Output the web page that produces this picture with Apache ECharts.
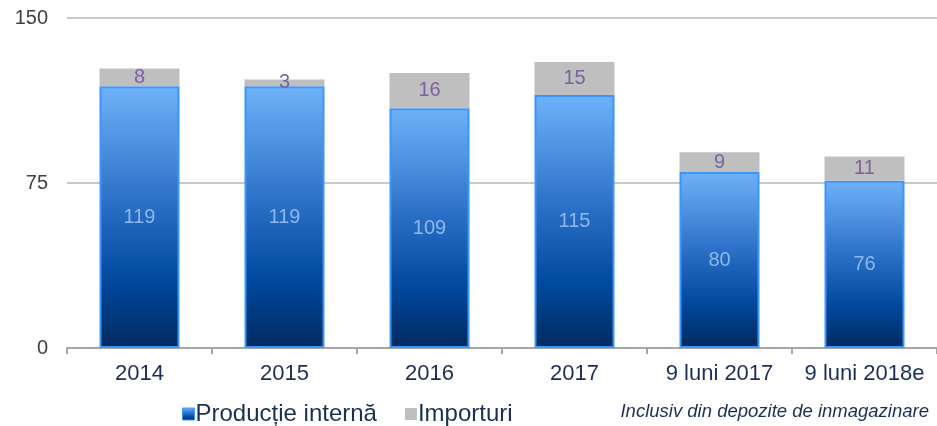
<!DOCTYPE html>
<html><head><meta charset="utf-8">
<script src="https://cdn.jsdelivr.net/npm/echarts@6/dist/echarts.min.js"></script>
<style>html,body{margin:0;padding:0;background:#fff}#c{width:937px;height:426px}</style>
</head><body><div id="c"></div>
<script>
const categories = ['2014','2015','2016','2017','9 luni 2017','9 luni 2018e'];
const productie = [119,119,109,115,80,76];
const importuri = [8,3,16,15,9,11];
const yTicks = [0,75,150];
const seriesNames = ['Producție internă','Importuri'];
const noteText = 'Inclusiv din depozite de inmagazinare';

const FF = 'Liberation Sans, Arial, sans-serif';
const blueGrad = new echarts.graphic.LinearGradient(0,0,0,1,[
  {offset:0,color:'#6fb2f9'},
  {offset:0.45,color:'#2a6fc6'},
  {offset:0.75,color:'#00489e'},
  {offset:1,color:'#002a5e'}
]);
const chart = echarts.init(document.getElementById('c'));
chart.setOption({
  animation:false,
  grid:{left:67,top:18,width:876,height:330},
  legend:{
    left:177, top:397, itemWidth:12, itemHeight:12, itemGap:28,
    textStyle:{fontSize:24,color:'#1a2f55',fontFamily:FF,padding:[0,0,0,-4]},
    data:[{name:seriesNames[0],icon:'rect',itemStyle:{color:blueGrad,borderColor:'#3a96ff',borderWidth:1}},{name:seriesNames[1],icon:'rect'}]
  },
  graphic:[{type:'text',right:8,top:402,style:{text:noteText,fontSize:18.5,fontStyle:'italic',fill:'#1a2f55',fontFamily:FF}}],
  xAxis:{
    type:'category',data:categories,
    axisLine:{lineStyle:{color:'#a6a6a6',width:2}},
    axisTick:{show:true,interval:0,length:6,lineStyle:{color:'#a6a6a6',width:2}},
    axisLabel:{interval:0,hideOverlap:false,fontSize:22,color:'#1a2f55',margin:15,fontFamily:FF}
  },
  yAxis:{
    type:'value',min:0,max:150,interval:75,
    axisLine:{show:false},axisTick:{show:false},
    splitLine:{lineStyle:{color:'#c8c8c8',width:2}},
    axisLabel:{fontSize:20,color:'#404040',margin:19,fontFamily:FF,
      formatter:v=>yTicks.includes(v)?String(v):''}
  },
  series:[
    {name:seriesNames[0],type:'bar',stack:'a',data:productie,barWidth:80,
     itemStyle:{color:blueGrad,borderColor:'#3a96ff',borderWidth:2},
     label:{show:true,position:'inside',fontSize:20,color:'#8db8ee',fontFamily:FF}},
    {name:seriesNames[1],type:'bar',stack:'a',data:importuri,barWidth:80,
     itemStyle:{color:'#bfbfbf'},
     label:{show:true,position:'inside',fontSize:20,color:'#7a62a0',fontFamily:FF}}
  ]
});
</script></body></html>
